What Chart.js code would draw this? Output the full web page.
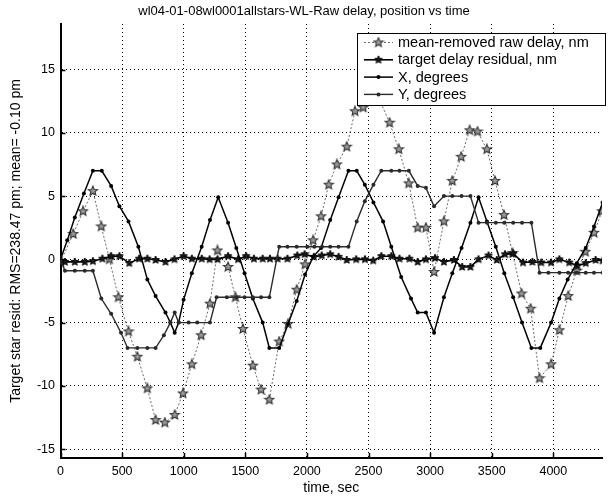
<!DOCTYPE html>
<html>
<head>
<meta charset="utf-8">
<script src="https://cdn.jsdelivr.net/npm/chart.js@4.4.1/dist/chart.umd.min.js"></script>
<style>
  html, body { margin: 0; padding: 0; background: #fff; }
  #wrap { width: 608px; height: 500px; }
</style>
</head>
<body>
<div id="wrap"><canvas id="chart" width="608" height="500"></canvas></div>
<script>
/* =========================
   DATA
========================= */
const TITLE = "wl04-01-08wl0001allstars-WL-Raw delay, position vs time";
const X_LABEL = "time, sec";
const Y_LABEL = "Target star resid: RMS=238.47 pm; mean= -0.10 pm";

const xTicks = [0, 500, 1000, 1500, 2000, 2500, 3000, 3500, 4000];
const yTicks = [-15, -10, -5, 0, 5, 10, 15];

// mean-removed raw delay, nm
const rawT = [0, 103, 183, 263, 331, 397, 470, 552, 624, 705, 772, 847, 927, 994, 1066, 1141, 1213, 1274, 1360, 1420,
  1481, 1561, 1628, 1695, 1775, 1847, 1917, 1985, 2050, 2115, 2177, 2243, 2323, 2390, 2457, 2525, 2590, 2671, 2746, 2827,
  2899, 2966, 3032, 3112, 3180, 3252, 3321, 3385, 3461, 3527, 3600, 3669, 3742, 3816, 3888, 3982, 4049, 4121, 4190, 4260,
  4330, 4395];
const rawV = [-0.2, 2.0, 3.8, 5.4, 2.6, 0.0, -3.0, -5.7, -7.7, -10.2, -12.7, -12.9, -12.3, -10.6, -8.3, -6.0, -3.5, 0.7, -0.6, -3.0,
  -5.5, -8.4, -10.3, -11.1, -6.5, -5.1, -2.4, -0.4, 1.5, 3.4, 5.9, 7.5, 8.9, 11.7, 12.0, 12.8, 12.6, 10.8, 8.7, 6.0,
  2.5, 2.5, -1.0, 3.0, 6.2, 8.1, 10.2, 10.1, 8.7, 6.2, 3.5, 0.5, -2.7, -3.9, -9.4, -8.3, -5.6, -2.9, -0.9, 0.6,
  2.1, 3.8];

// target delay residual, nm
const resT = [0, 36, 116, 197, 263, 340, 411, 478, 558, 638, 705, 772, 852, 925, 999, 1066, 1146, 1210, 1275, 1360,
  1441, 1507, 1570, 1641, 1700, 1762, 1842, 1922, 1981, 2056, 2120, 2189, 2257, 2323, 2400, 2471, 2538, 2604, 2685, 2751,
  2832, 2899, 2966, 3040, 3112, 3193, 3260, 3327, 3393, 3474, 3541, 3608, 3674, 3754, 3830, 3902, 3982, 4049, 4129, 4196,
  4263, 4343, 4400];
const resV = [-0.2, -0.2, -0.2, -0.2, -0.15, 0.05, 0.25, 0.25, -0.3, 0.05, 0.05, -0.05, -0.2, 0.0, 0.25, 0.05, 0.05, 0.0, 0.0, 0.25,
  0.0, 0.25, 0.05, 0.05, 0.05, 0.05, 0.05, 0.3, 0.4, 0.2, 0.3, 0.4, 0.2, -0.05, 0.0, 0.0, -0.1, 0.25, 0.25, 0.05,
  0.05, -0.2, 0.0, 0.1, -0.2, -0.05, -0.6, -0.6, 0.0, 0.3, -0.05, 0.4, 0.45, -0.25, -0.2, -0.25, -0.25, 0.0, -0.25, -0.5,
  -0.3, -0.05, -0.1];

// X, degrees
const xDegT = [0, 55, 116, 190, 263, 335, 411, 478, 552, 632, 705, 772, 852, 892, 927, 959, 999, 1066, 1146, 1213,
  1280, 1360, 1427, 1494, 1561, 1641, 1695, 1775, 1847, 1917, 1985, 2050, 2115, 2189, 2257, 2337, 2404, 2470, 2540, 2618,
  2685, 2765, 2845, 2899, 2966, 3032, 3112, 3180, 3255, 3327, 3393, 3461, 3533, 3602, 3674, 3746, 3822, 3894, 3982, 4049,
  4116, 4190, 4263, 4330, 4400];
const xDegV = [0, 1.5, 3.3, 5.2, 7.0, 7.0, 5.8, 4.2, 3.0, 1.0, -1.6, -2.9, -4.2, -5.0, -5.8, -5.0, -3.2, -1.1, 1.0, 3.1,
  4.9, 2.9, 0.9, -1.1, -3.1, -5.0, -7.0, -7.0, -5.1, -3.3, -1.2, 0.2, 0.9, 3.1, 4.9, 7.0, 7.0, 5.9, 4.5, 3.0,
  1.0, -1.4, -3.1, -4.2, -4.2, -5.8, -3.0, -1.1, 0.9, 2.9, 4.9, 3.0, 1.0, -1.1, -3.0, -5.0, -7.0, -7.0, -5.0, -3.1,
  -1.6, -0.3, 0.9, 2.6, 4.5];

// Y, degrees
const yDegT = [0, 36, 116, 197, 263, 331, 411, 491, 544, 624, 705, 772, 839, 892, 927, 959, 1040, 1110, 1213, 1267,
  1350, 1427, 1494, 1561, 1628, 1695, 1775, 1842, 1917, 2003, 2060, 2123, 2189, 2257, 2337, 2404, 2470, 2540, 2604, 2685,
  2751, 2827, 2899, 2966, 3032, 3112, 3180, 3255, 3327, 3393, 3461, 3533, 3602, 3674, 3746, 3822, 3888, 3960, 4049, 4120,
  4190, 4263, 4330, 4400];
const yDegV = [0, -0.9, -0.9, -0.9, -0.9, -3.1, -4.3, -5.8, -7.0, -7.0, -7.0, -7.0, -6.0, -5.0, -4.2, -5.0, -5.0, -5.0, -5.0, -3.0,
  -3.0, -3.0, -3.0, -3.0, -3.0, -3.0, 1.0, 1.0, 1.0, 1.0, 1.0, 1.0, 1.0, 1.0, 1.0, 3.0, 4.6, 5.9, 7.0, 7.0,
  7.0, 7.0, 5.8, 5.65, 4.2, 5.0, 5.0, 5.0, 5.0, 2.9, 2.9, 2.9, 2.9, 2.9, 2.9, 2.9, -1.05, -1.05, -1.05, -1.05,
  -1.05, -1.05, -1.05, -1.05];

/* =========================
   HELPERS
========================= */
const FONT = '"Liberation Sans", Arial, Helvetica, sans-serif';
Chart.defaults.font.family = FONT;
Chart.defaults.color = "#000";

const pts = (t, v) => t.map((x, i) => ({ x, y: v[i] }));

// five point star marker drawn into a small canvas
function starMarker(size, fill, stroke, lw) {
  const c = document.createElement("canvas");
  c.width = c.height = size;
  const g = c.getContext("2d");
  const r = size / 2 - lw, ri = r * 0.45, m = size / 2;
  g.beginPath();
  for (let i = 0; i < 10; i++) {
    const a = -Math.PI / 2 + i * Math.PI / 5;
    const rr = i % 2 ? ri : r;
    g.lineTo(m + rr * Math.cos(a), m + rr * Math.sin(a));
  }
  g.closePath();
  if (fill) { g.fillStyle = fill; g.fill(); }
  if (stroke) { g.strokeStyle = stroke; g.lineWidth = lw; g.stroke(); }
  return c;
}

const rawStar = starMarker(12, "#9a9a9a", "#333", 1.1);
const resStar = starMarker(10, "#1a1a1a", "#000", 1);

/* =========================
   PLUGINS
========================= */
// inward tick marks like the original axes
const inTicks = {
  id: "inTicks",
  afterDatasetsDraw(chart) {
    const { ctx, chartArea: a, scales: { x, y } } = chart;
    ctx.save();
    ctx.strokeStyle = "#000";
    ctx.lineWidth = 1.5;
    ctx.beginPath();
    xTicks.forEach(v => {
      const px = Math.round(x.getPixelForValue(v)) + 0.5;
      ctx.moveTo(px, a.bottom); ctx.lineTo(px, a.bottom - 5);
    });
    yTicks.forEach(v => {
      const py = Math.round(y.getPixelForValue(v)) + 0.5;
      ctx.moveTo(a.left, py); ctx.lineTo(a.left + 5, py);
    });
    ctx.stroke();
    ctx.restore();
  }
};

// boxed legend in the upper right
const boxLegend = {
  id: "boxLegend",
  afterDraw(chart) {
    const ctx = chart.ctx;
    const bx = 357, by = 33, bw = 248, bh = 72;
    ctx.save();
    ctx.fillStyle = "#fff";
    ctx.fillRect(bx, by, bw, bh);
    ctx.strokeStyle = "#000";
    ctx.lineWidth = 1;
    ctx.strokeRect(bx + 0.5, by + 0.5, bw, bh);
    ctx.font = "14.5px " + FONT;
    ctx.textBaseline = "middle";
    chart.data.datasets.forEach((ds, i) => {
      const yy = by + 9.5 + i * 17.3;
      ctx.save();
      ctx.strokeStyle = ds.borderColor;
      ctx.lineWidth = ds.borderWidth;
      ctx.setLineDash(ds.borderDash || []);
      ctx.beginPath();
      ctx.moveTo(364, yy); ctx.lineTo(393, yy);
      ctx.stroke();
      ctx.restore();
      if (ds.pointStyle instanceof HTMLCanvasElement) {
        const m = ds.pointStyle;
        ctx.drawImage(m, 378.5 - m.width / 2, yy - m.height / 2);
      } else {
        ctx.fillStyle = ds.pointBackgroundColor;
        ctx.beginPath();
        ctx.arc(378.5, yy, ds.pointRadius, 0, Math.PI * 2);
        ctx.fill();
      }
      ctx.fillStyle = "#000";
      ctx.fillText(ds.label, 398, yy + 0.5);
    });
    ctx.restore();
  }
};

/* =========================
   CHART
========================= */
new Chart(document.getElementById("chart"), {
  type: "scatter",
  data: {
    datasets: [
      {
        label: "mean-removed raw delay, nm",
        data: pts(rawT, rawV),
        showLine: true,
        borderColor: "#6a6a6a",
        borderWidth: 1,
        borderDash: [2, 2],
        pointStyle: rawStar,
        pointRadius: 5,
        order: 4
      },
      {
        label: "target delay residual, nm",
        data: pts(resT, resV),
        showLine: true,
        borderColor: "#000",
        borderWidth: 1.6,
        pointStyle: resStar,
        pointRadius: 4,
        order: 3
      },
      {
        label: "X, degrees",
        data: pts(xDegT, xDegV),
        showLine: true,
        borderColor: "#000",
        borderWidth: 1.5,
        pointStyle: "circle",
        pointRadius: 2,
        pointBorderWidth: 0,
        pointBackgroundColor: "#000",
        order: 2
      },
      {
        label: "Y, degrees",
        data: pts(yDegT, yDegV),
        showLine: true,
        borderColor: "#2a2a2a",
        borderWidth: 1.4,
        pointStyle: "circle",
        pointRadius: 2,
        pointBorderWidth: 0,
        pointBackgroundColor: "#2a2a2a",
        order: 1
      }
    ]
  },
  options: {
    responsive: false,
    animation: false,
    devicePixelRatio: 1,
    layout: { padding: 0 },
    plugins: {
      legend: { display: false },
      tooltip: { enabled: false },
      title: {
        display: true,
        text: TITLE,
        color: "#000",
        font: { size: 13, weight: "normal" },
        padding: { top: 4, bottom: 4.4 }
      }
    },
    scales: {
      x: {
        type: "linear",
        min: 0,
        max: 4395,
        afterBuildTicks: s => { s.ticks = xTicks.map(v => ({ value: v })); },
        afterFit: s => { s.height = 42; },
        grid: { color: "#000", lineWidth: 1, drawTicks: false },
        border: { display: true, color: "#000", width: 2, dash: [1, 3] },
        ticks: { padding: 6, color: "#000", font: { size: 12.5 }, maxRotation: 0, callback: v => String(v) },
        title: { display: true, text: X_LABEL, color: "#000", font: { size: 14 }, padding: { top: 0, bottom: 3.6 } }
      },
      y: {
        type: "linear",
        min: -15.7,
        max: 18.6,
        afterBuildTicks: s => { s.ticks = yTicks.map(v => ({ value: v })); },
        afterFit: s => { s.width = 60.5; },
        grid: { color: "#000", lineWidth: 1, drawTicks: false },
        border: { display: true, color: "#000", width: 2, dash: [1, 3] },
        ticks: { padding: 5.5, color: "#000", font: { size: 12.5 }, callback: v => String(v) },
        title: { display: true, text: Y_LABEL, color: "#000", font: { size: 14 }, padding: { top: 7.6, bottom: 0 } }
      }
    }
  },
  plugins: [inTicks, boxLegend]
});
</script>
</body>
</html>
